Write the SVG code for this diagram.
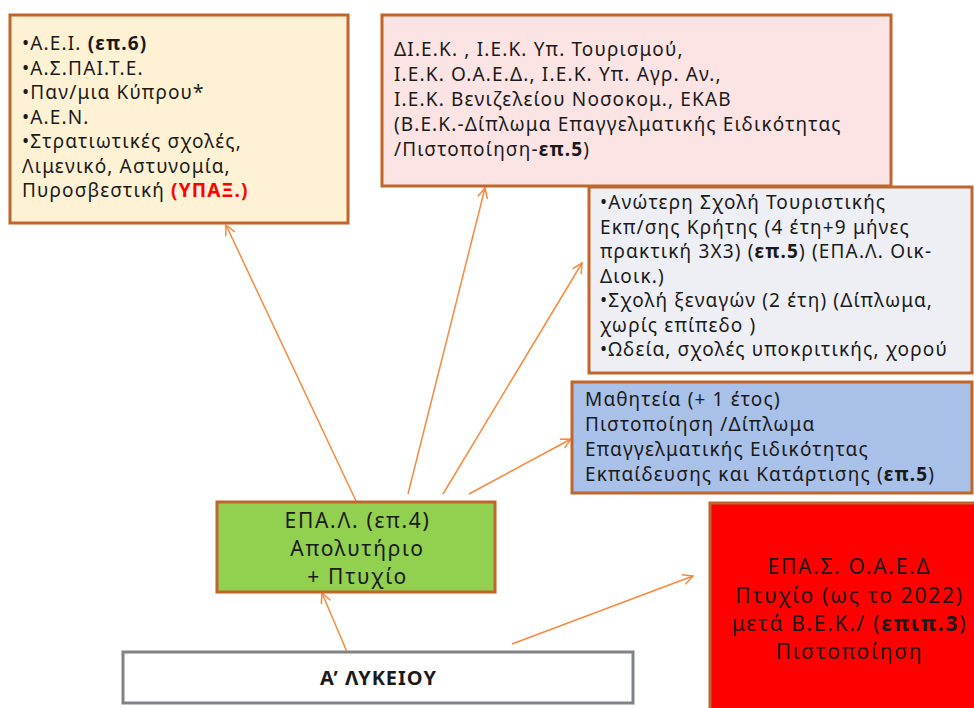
<svg xmlns="http://www.w3.org/2000/svg" width="974" height="708" viewBox="0 0 974 708">
<defs>
<style>
.box{stroke:#C0652B;stroke-width:3}
.t{font-family:"Noto Sans","Open Sans","DejaVu Sans",sans-serif;font-size:19px;letter-spacing:1.15px;fill:#1a1a1a}
.c{font-family:"Noto Sans","Open Sans","DejaVu Sans",sans-serif;font-size:21px;letter-spacing:1.7px;fill:#1a1a1a;text-anchor:middle}
.b{font-weight:bold}
.conn{stroke:#F7893F;stroke-width:1.5;fill:none;marker-end:url(#ah)}
</style>
<marker id="ah" viewBox="0 0 12 12" refX="11" refY="6" markerWidth="12" markerHeight="12" markerUnits="userSpaceOnUse" orient="auto">
<path d="M1,1 L11,6 L1,11" fill="none" stroke="#F7893F" stroke-width="1.5"/>
</marker>
</defs>
<rect width="974" height="708" fill="#ffffff"/>
<g id="connectors">
<line class="conn" x1="356" y1="501" x2="226" y2="225"/>
<line class="conn" x1="408" y1="494" x2="485" y2="188"/>
<line class="conn" x1="443" y1="494" x2="582" y2="263"/>
<line class="conn" x1="469" y1="494" x2="571" y2="439"/>
<line class="conn" x1="347" y1="652" x2="322" y2="593"/>
<line class="conn" x1="512" y1="644" x2="693" y2="576"/>
</g>
<g id="node-aei">
<rect class="box" x="10" y="15" width="338" height="208" fill="#FFF2D4"/>
<text class="t"><tspan x="22" y="50">•Α.Ε.Ι. <tspan class="b">(επ.6)</tspan></tspan><tspan x="22" y="74.5">•Α.Σ.ΠΑΙ.Τ.Ε.</tspan><tspan x="22" y="99">•Παν/μια Κύπρου*</tspan><tspan x="22" y="123.5">•Α.Ε.Ν.</tspan><tspan x="22" y="148">•Στρατιωτικές σχολές,</tspan><tspan x="22" y="172.5">Λιμενικό, Αστυνομία,</tspan><tspan x="22" y="197">Πυροσβεστική <tspan class="b" fill="#FF0000">(ΥΠΑΞ.)</tspan></tspan></text>
</g>
<g id="node-iek">
<rect class="box" x="382" y="15" width="509" height="171" fill="#FCE4E4"/>
<text class="t"><tspan x="394" y="56">ΔΙ.Ε.Κ. , Ι.Ε.Κ. Υπ. Τουρισμού,</tspan><tspan x="394" y="81">Ι.Ε.Κ.  Ο.Α.Ε.Δ., Ι.Ε.Κ. Υπ. Αγρ. Αν.,</tspan><tspan x="394" y="106">Ι.Ε.Κ. Βενιζελείου Νοσοκομ., ΕΚΑΒ</tspan><tspan x="394" y="131">(Β.Ε.Κ.-Δίπλωμα Επαγγελματικής Ειδικότητας</tspan><tspan x="394" y="156">/Πιστοποίηση-<tspan class="b">επ.5</tspan>)</tspan></text>
</g>
<g id="node-tourism">
<rect class="box" x="589" y="187" width="383" height="186" fill="#EEEFF4"/>
<text class="t"><tspan x="600" y="209">•Ανώτερη Σχολή Τουριστικής</tspan><tspan x="600" y="233.5">Εκπ/σης Κρήτης (4 έτη+9 μήνες</tspan><tspan x="600" y="258">πρακτική 3Χ3) (<tspan class="b">επ.5</tspan>) (ΕΠΑ.Λ. Οικ-</tspan><tspan x="600" y="282.5">Διοικ.)</tspan><tspan x="600" y="307">•Σχολή ξεναγών (2 έτη) (Δίπλωμα,</tspan><tspan x="600" y="331.5">χωρίς επίπεδο )</tspan><tspan x="600" y="356">•Ωδεία, σχολές υποκριτικής, χορού</tspan></text>
</g>
<g id="node-apprentice">
<rect class="box" x="572" y="382" width="400" height="111" fill="#A9C0E8"/>
<text class="t"><tspan x="585" y="406">Μαθητεία  (+ 1 έτος)</tspan><tspan x="585" y="431">Πιστοποίηση /Δίπλωμα</tspan><tspan x="585" y="456">Επαγγελματικής Ειδικότητας</tspan><tspan x="585" y="481">Εκπαίδευσης και Κατάρτισης (<tspan class="b">επ.5</tspan>)</tspan></text>
</g>
<g id="node-epal">
<rect class="box" x="217" y="502" width="278" height="90" fill="#92D050"/>
<text class="c"><tspan x="357.5" y="528">ΕΠΑ.Λ. (επ.4)</tspan><tspan x="357.5" y="556">Απολυτήριο</tspan><tspan x="357.5" y="584">+ Πτυχίο</tspan></text>
</g>
<g id="node-lykeio">
<rect x="123" y="652" width="510" height="51" fill="#ffffff" stroke="#808288" stroke-width="3"/>
<text class="b" x="378.5" y="685" font-family="Noto Sans, Open Sans, sans-serif" font-size="20" letter-spacing="1" text-anchor="middle" fill="#1a1a1a">Α’ ΛΥΚΕΙΟΥ</text>
</g>
<g id="node-epas">
<rect class="box" x="710" y="503" width="266" height="210" fill="#FF0000"/>
<text class="c"><tspan x="849.5" y="574">ΕΠΑ.Σ. Ο.Α.Ε.Δ</tspan><tspan x="849.5" y="603">Πτυχίο (ως το 2022)</tspan><tspan x="849.5" y="631">μετά Β.Ε.Κ./ (<tspan class="b">επιπ.3</tspan>)</tspan><tspan x="849.5" y="659">Πιστοποίηση</tspan></text>
</g>
</svg>
